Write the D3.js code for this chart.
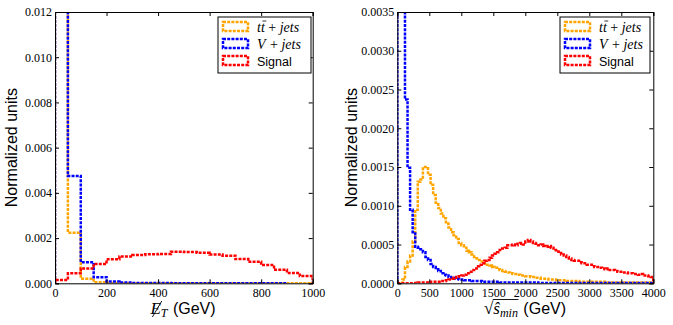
<!DOCTYPE html>
<html>
<head>
<meta charset="utf-8">
<script src="https://cdn.jsdelivr.net/npm/d3@7"></script>
<style>
body { margin: 0; background: #fff; }
.axis text { font-family: "Liberation Serif", serif; font-size: 12px; fill: #000; }
.axis path, .axis line { stroke: #000; stroke-width: 1; }
.hist { fill: none; stroke-width: 2.5; stroke-dasharray: 3,1.2; }
text { white-space: pre; }
</style>
</head>
<body>
<div id="chart"></div>
<script>
// ---- data ----
// left panel: missing E_T, 50 GeV bins from 0
var metBin = 50;
var metTtbar = [0.0155, 0.00224, 0.0002, 0.00005, 0.00001, 0, 0, 0, 0, 0,
                0, 0, 0, 0, 0, 0, 0, 0, 0, 0];
var metVjets = [0.0165, 0.00475, 0.00093, 0.00027, 0.00008, 0.00003, 0.00001, 0.00001, 0.00001, 0.000005,
                0.000005, 0.000005, 0, 0, 0, 0, 0, 0];
var metSignal = [0.00015, 0.00044, 0.00066, 0.00085, 0.00106, 0.00118, 0.00125, 0.00128, 0.0013, 0.0014,
                 0.00138, 0.00135, 0.00127, 0.00122, 0.00107, 0.00095, 0.00081, 0.0006, 0.00046, 0.00032];

// right panel: sqrt(s_min), 40 GeV bins from 0
var sminBin = 40;
var sminTtbar = [
  0, 0, 0.00005, 0.00021, 0.00028, 0.00036, 0.00054, 0.00095, 0.00131, 0.00134,
  0.0015, 0.0015, 0.0014, 0.00127, 0.00114, 0.00104, 0.00097, 0.0009, 0.00084, 0.00077,
  0.00072, 0.00066, 0.00062, 0.00057, 0.00052, 0.00049, 0.00046, 0.00042, 0.0004, 0.00037,
  0.00034, 0.00032, 0.0003, 0.00028, 0.00026, 0.00024, 0.00023, 0.00021, 0.0002, 0.00018,
  0.00017, 0.00016, 0.00015, 0.00014, 0.00013, 0.00012, 0.00012, 0.00011, 0.0001, 0.0001,
  0.00009, 0.00009, 0.00008, 0.00008, 0.00007, 0.00007, 0.00006, 0.00006, 0.00006, 0.00005,
  0.00005, 0.00005, 0.00004, 0.00004, 0.00004, 0.00004, 0.00003, 0.00003, 0.00003, 0.00003,
  0.00003, 0.00002, 0.00002, 0.00002, 0.00002, 0.00002, 0.00002, 0.00002, 0.00002, 0.00002,
  0.00002, 0.00001, 0.00001, 0.00001, 0.00001, 0.00001, 0.00001, 0.00001, 0.00001, 0.00001,
  0.00001, 0.00001, 0.00001, 0.00001, 0.00001, 0.00001, 0.00001, 0.00001, 0.00001, 0.00001];
var sminVjets = [
  0.0042, 0.0078, 0.0058, 0.00237, 0.00149, 0.00095, 0.00066, 0.00047, 0.00046, 0.00044,
  0.0004, 0.00034, 0.0003, 0.00025, 0.00021, 0.00018, 0.00016, 0.00013, 0.00011, 0.0001,
  0.00008, 0.00007, 0.00006, 0.00006, 0.00005, 0.00005, 0.00004, 0.00004, 0.00004, 0.00003,
  0.00003, 0.00003, 0.00003, 0.00002, 0.00002, 0.00002, 0.00002, 0.00002, 0.00002, 0.00002,
  0.00001, 0.00001, 0.00001, 0.00001, 0.00001, 0.00001, 0.00001, 0.00001, 0.00001, 0.00001,
  0.00001, 0.00001, 0.00001, 0.00001, 0.00001, 0.000005, 0.000005, 0.000005, 0.000005, 0.000005,
  0.000005, 0.000005, 0.000005, 0.000005, 0.000005, 0.000005, 0.000005, 0.000005, 0.000005, 0.000005,
  0.000005, 0.000005, 0.000005, 0.000005, 0.000005, 0.000005, 0.000005, 0.000005, 0.000005, 0.000005,
  0.000005, 0.000005, 0.000005, 0.000005, 0.000005, 0.000005, 0.000005, 0.000005, 0.000005, 0.000005,
  0.000005, 0.000005, 0.000005, 0.000005, 0.000005, 0.000005, 0.000005, 0.000005, 0.000005, 0.000005];
var sminSignal = [
  0, 0, 0, 0, 0, 0, 0, 0.000005, 0.00001, 0.00001,
  0.00001, 0.00001, 0.00001, 0.00002, 0.00002, 0.00002, 0.00002, 0.00003, 0.00003, 0.00004,
  0.00005, 0.00006, 0.00007, 0.00008, 0.00009, 0.0001, 0.00011, 0.00013, 0.00015, 0.00017,
  0.00019, 0.00022, 0.00024, 0.00026, 0.00029, 0.0003, 0.00033, 0.00036, 0.00038, 0.0004,
  0.00043, 0.00045, 0.00046, 0.00049, 0.00049, 0.0005, 0.00049, 0.00051, 0.00052, 0.0005,
  0.00054, 0.00056, 0.00054, 0.00052, 0.00051, 0.00049, 0.0005, 0.00048, 0.00047, 0.00048,
  0.00046, 0.00043, 0.00041, 0.00039, 0.00037, 0.00036, 0.00034, 0.00032, 0.0003, 0.00029,
  0.00029, 0.00027, 0.00026, 0.00026, 0.00024, 0.00024, 0.00022, 0.00021, 0.00021, 0.0002,
  0.00019, 0.00018, 0.00019, 0.00017, 0.00017, 0.00016, 0.00015, 0.00015, 0.00014, 0.00014,
  0.00013, 0.00013, 0.00012, 0.00012, 0.00011, 0.00012, 0.0001, 0.0001, 0.00009, 0.00008];

var metXTicks = [0, 200, 400, 600, 800, 1000];
var metYTicks = [0, 0.002, 0.004, 0.006, 0.008, 0.010, 0.012];
var sminXTicks = [0, 500, 1000, 1500, 2000, 2500, 3000, 3500, 4000];
var sminYTicks = [0, 0.0005, 0.001, 0.0015, 0.002, 0.0025, 0.003, 0.0035];

var colours = { ttbar: "#ffa500", vjets: "#0000ff", signal: "#ff0000" };

var svg = d3.select("#chart")
            .append("svg")
              .attr("width", 673)
              .attr("height", 325);

// histogram outline as step points
function stepPoints(values, w) {
  var pts = [[0, 0]];
  values.forEach(function(v, i) {
    pts.push([i * w, v]);
    pts.push([(i + 1) * w, v]);
  });
  pts.push([values.length * w, 0]);
  return pts;
}

// text made of pieces placed one after the other
function rich(parent, pieces, x, y, anchor) {
  var g = parent.append("g");
  var cx = 0;
  var spans = [];
  pieces.forEach(function(p) {
    var t = g.append("text")
              .attr("x", cx)
              .attr("y", p.dy || 0)
              .style("font-family", p.family)
              .style("font-size", p.size + "px")
              .style("font-style", p.style || "normal")
              .text(p.text);
    var w = t.node().getComputedTextLength();
    spans.push([cx, cx + w]);
    cx += w + (p.gap || 0);
  });
  var shift = anchor === "middle" ? -cx / 2 : (anchor === "end" ? -cx : 0);
  g.attr("transform", "translate(" + (x + shift) + "," + y + ")");
  return { g: g, spans: spans };
}

var serif = "'Liberation Serif', serif";
var sans = "'Liberation Sans', Arial, sans-serif";
var nb = "\u00a0";

function panel(o) {
  var x = d3.scaleLinear().domain([0, o.xMax]).range([o.left, o.right]);
  var y = d3.scaleLinear().domain([0, o.yMax]).range([o.bottom, o.top]);

  svg.append("clipPath")
      .attr("id", o.id)
     .append("rect")
      .attr("x", o.left)
      .attr("y", o.top)
      .attr("width", o.right - o.left)
      .attr("height", o.bottom - o.top);

  var line = d3.line()
               .x(function(d) { return x(d[0]); })
               .y(function(d) { return y(d[1]); });

  o.series.forEach(function(s) {
    svg.append("path")
        .attr("class", "hist")
        .attr("clip-path", "url(#" + o.id + ")")
        .attr("stroke", s.colour)
        .attr("d", line(stepPoints(s.values, o.bin)));
  });

  // axes, ticks inside on all four sides
  svg.append("g")
      .attr("class", "axis")
      .attr("transform", "translate(0," + o.bottom + ")")
      .call(d3.axisBottom(x).tickValues(o.xTicks).tickFormat(d3.format("d")).tickSize(-4).tickPadding(5));
  svg.append("g")
      .attr("class", "axis")
      .attr("transform", "translate(0," + o.top + ")")
      .call(d3.axisTop(x).tickValues(o.xTicks).tickFormat("").tickSize(-4));
  svg.append("g")
      .attr("class", "axis")
      .attr("transform", "translate(" + o.left + ",0)")
      .call(d3.axisLeft(y).tickValues(o.yTicks).tickFormat(d3.format(o.yFmt)).tickSize(-4).tickPadding(3));
  svg.append("g")
      .attr("class", "axis")
      .attr("transform", "translate(" + o.right + ",0)")
      .call(d3.axisRight(y).tickValues(o.yTicks).tickFormat("").tickSize(-4));

  // y label
  svg.append("text")
      .attr("transform", "translate(" + o.yLabelX + "," + ((o.top + o.bottom) / 2) + ") rotate(-90)")
      .attr("text-anchor", "middle")
      .style("font-family", sans)
      .style("font-size", "16px")
      .text("Normalized units");

  // legend
  var leg = svg.append("g").attr("transform", "translate(" + o.legendX + ",17)");
  leg.append("rect")
      .attr("width", o.legendW)
      .attr("height", 56)
      .attr("fill", "#fff")
      .attr("stroke", "#000")
      .attr("stroke-width", 1);
  var entries = [
    { colour: colours.ttbar, label: "tt" },
    { colour: colours.vjets, label: "V" },
    { colour: colours.signal, label: "Signal" }
  ];
  entries.forEach(function(e, i) {
    var cy = 10 + 17 * i;
    leg.append("rect")
        .attr("class", "hist")
        .attr("x", 5)
        .attr("y", cy - 5)
        .attr("width", 25)
        .attr("height", 9)
        .attr("stroke", e.colour);
    if (e.label === "Signal") {
      leg.append("text")
          .attr("x", 39)
          .attr("y", cy + 5)
          .style("font-family", sans)
          .style("font-size", "12.5px")
          .text("Signal");
    } else {
      var pieces = e.label === "tt"
        ? [{ text: "t", family: serif, style: "italic", size: 14 },
           { text: "t", family: serif, style: "italic", size: 14 },
           { text: nb + "+" + nb, family: serif, size: 14 },
           { text: "jets", family: serif, style: "italic", size: 14 }]
        : [{ text: "V", family: serif, style: "italic", size: 14, gap: 1 },
           { text: nb + "+" + nb, family: serif, size: 14 },
           { text: "jets", family: serif, style: "italic", size: 14 }];
      var r = rich(leg, pieces, 39, cy + 5, "start");
      if (e.label === "tt") {
        var sp = r.spans[1];
        r.g.append("line")
            .attr("x1", sp[0] + 1.5).attr("x2", sp[1] + 1.5)
            .attr("y1", -11).attr("y2", -11)
            .attr("stroke", "#000").attr("stroke-width", 0.8);
      }
    }
  });

  o.xLabel(x);
}

panel({
  id: "clipMet", left: 55, right: 312.7, top: 12, bottom: 283.3,
  xMax: 1000, yMax: 0.012, bin: metBin,
  xTicks: metXTicks, yTicks: metYTicks, yFmt: ".3f",
  yLabelX: 16.5, legendX: 218, legendW: 93,
  series: [
    { values: metTtbar, colour: colours.ttbar },
    { values: metVjets, colour: colours.vjets },
    { values: metSignal, colour: colours.signal }
  ],
  xLabel: function(x) {
    var r = rich(svg, [
      { text: "E", family: serif, style: "italic", size: 17 },
      { text: "T", family: serif, style: "italic", size: 12, dy: 3, gap: 1 },
      { text: nb + "(GeV)", family: sans, size: 16 }
    ], 183, 314, "middle");
    var sp = r.spans[0];
    r.g.append("line")
        .attr("x1", sp[0] + 2).attr("y1", 3)
        .attr("x2", sp[1] + 1).attr("y2", -13)
        .attr("stroke", "#000").attr("stroke-width", 0.9);
  }
});

panel({
  id: "clipSmin", left: 397.3, right: 653.3, top: 12, bottom: 283.3,
  xMax: 4000, yMax: 0.0035, bin: sminBin,
  xTicks: sminXTicks, yTicks: sminYTicks, yFmt: ".4f",
  yLabelX: 356.5, legendX: 560, legendW: 90,
  series: [
    { values: sminTtbar, colour: colours.ttbar },
    { values: sminVjets, colour: colours.vjets },
    { values: sminSignal, colour: colours.signal }
  ],
  xLabel: function(x) {
    var r = rich(svg, [
      { text: "\u221a", family: serif, size: 17 },
      { text: "\u015d", family: serif, style: "italic", size: 17 },
      { text: "min", family: serif, style: "italic", size: 12, dy: 3, gap: 1 },
      { text: nb + "(GeV)", family: sans, size: 16 }
    ], 525, 314, "middle");
    r.g.append("line")
        .attr("x1", r.spans[0][1] - 0.5).attr("x2", r.spans[2][1] + 0.5)
        .attr("y1", -14.5).attr("y2", -14.5)
        .attr("stroke", "#000").attr("stroke-width", 0.9);
  }
});
</script>
</body>
</html>
